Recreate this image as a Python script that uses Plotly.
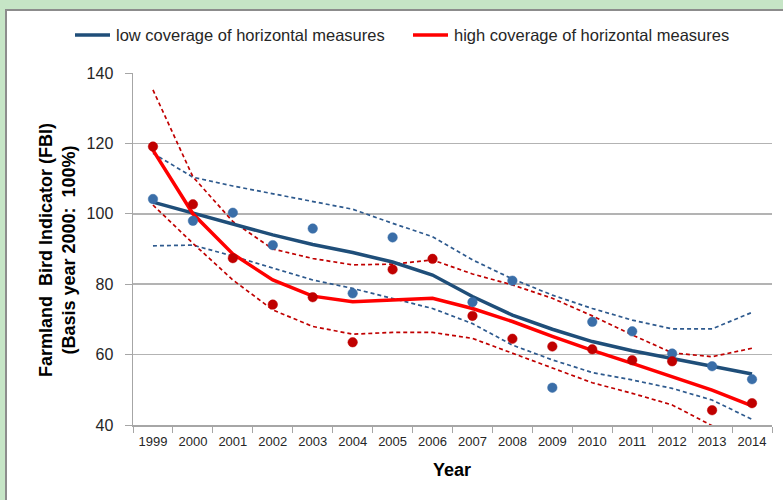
import plotly.graph_objects as go

years = [str(y) for y in range(1999, 2015)]

# observed index values (dots)
low_obs = [104.2, 98.0, 100.3, 91.1, 95.8, 77.4, 93.3, None, 74.9, 81.0, 50.6, 69.3, 66.6, 60.3, 56.7, 53.0]
high_obs = [119.1, 102.7, 87.4, 74.2, 76.3, 63.5, 84.2, 87.2, 71.0, 64.5, 62.3, 61.5, 58.4, 58.1, 44.2, 46.2]

# smoothed trends
low_trend = [103.3, 100.2, 97.0, 94.0, 91.3, 89.0, 86.3, 82.6, 76.5, 71.2, 67.2, 63.7, 61.1, 58.9, 56.8, 54.5]
high_trend = [118.1, 100.0, 88.6, 81.2, 76.6, 75.0, 75.5, 76.0, 73.1, 69.4, 65.2, 61.2, 57.5, 53.7, 49.9, 45.4]

# confidence bounds
low_upper = [117.2, 110.4, 107.9, 105.7, 103.6, 101.3, 97.3, 93.5, 86.9, 81.5, 76.9, 73.1, 69.8, 67.3, 67.3, 72.0]
low_lower = [90.9, 91.1, 88.0, 84.5, 81.2, 78.8, 76.0, 73.1, 68.8, 62.7, 58.5, 54.9, 52.8, 50.4, 47.1, 41.6]
high_upper = [135.2, 110.5, 97.8, 90.0, 87.3, 85.5, 85.7, 86.9, 82.9, 79.8, 76.0, 71.0, 65.6, 60.5, 59.4, 61.8]
high_lower = [102.5, 91.6, 81.2, 72.7, 68.0, 65.8, 66.3, 66.3, 64.6, 60.4, 56.1, 52.0, 49.0, 45.7, 39.8, 33.0]

y_ticks = [40, 60, 80, 100, 120, 140]
series_names = ["low coverage of horizontal measures", "high coverage of horizontal measures"]

BLUE_LINE = "#1F4E79"
BLUE_DOT = "#3A6EA8"
BLUE_DASH = "#2E5A8E"
RED_LINE = "#FF0000"
RED_DOT = "#C00000"
RED_DASH = "#C00000"
FONT = "Liberation Sans, Arial, sans-serif"

fig = go.Figure()

def dash(y, color):
    fig.add_trace(go.Scatter(x=years, y=y, mode="lines", showlegend=False, hoverinfo="skip",
                             line=dict(color=color, width=1.7, dash="4px,3px")))

dash(low_upper, BLUE_DASH)
dash(low_lower, BLUE_DASH)
dash(high_upper, RED_DASH)
dash(high_lower, RED_DASH)

fig.add_trace(go.Scatter(x=years, y=low_trend, mode="lines", name=series_names[0], showlegend=False,
                         line=dict(color=BLUE_LINE, width=3.5)))
fig.add_trace(go.Scatter(x=years, y=high_trend, mode="lines", name=series_names[1], showlegend=False,
                         line=dict(color=RED_LINE, width=3.5)))

fig.add_trace(go.Scatter(x=years, y=low_obs, mode="markers", showlegend=False,
                         marker=dict(color=BLUE_DOT, size=9.5, line=dict(width=1, color="rgba(58,110,168,0.5)"))))
fig.add_trace(go.Scatter(x=years, y=high_obs, mode="markers", showlegend=False,
                         marker=dict(color=RED_DOT, size=9.5, line=dict(width=1, color="rgba(192,0,0,0.5)"))))

L, R, T, B = 133, 11, 73, 75
W, H = 783, 500
pw, ph = W - L - R, H - T - B

def px2x(px):
    return (px - L) / pw

def py2y(py):
    return (H - B - py) / ph

# white chart panel on the green page
fig.add_shape(type="rect", xref="paper", yref="paper", layer="below",
              x0=px2x(6), x1=px2x(800), y0=py2y(520), y1=py2y(10),
              fillcolor="white", line=dict(color="#8C8C8C", width=2))

# legend (drawn manually to keep it on one row)
for (x0, x1, tx), col, name in zip([(75, 110, 114), (413, 448, 452)], [BLUE_LINE, RED_LINE], series_names):
    fig.add_shape(type="line", xref="paper", yref="paper", x0=px2x(x0), x1=px2x(x1),
                  y0=py2y(35), y1=py2y(35), line=dict(color=col, width=3.5))
    fig.add_annotation(xref="paper", yref="paper", x=px2x(tx), y=py2y(35), text=name,
                       showarrow=False, xanchor="left", yanchor="middle",
                       font=dict(family=FONT, size=16.5, color="#262626"))

fig.add_annotation(xref="paper", yref="paper", x=px2x(57), y=py2y(250), textangle=-90,
                   text="<b>Farmland  Bird Indicator (FBI)</b><br><b>(Basis year 2000:  100%)</b>",
                   showarrow=False, font=dict(family=FONT, size=18, color="black"),
                   xanchor="center", yanchor="middle")
fig.add_annotation(xref="paper", yref="paper", x=px2x(452), y=py2y(470),
                   text="<b>Year</b>", showarrow=False,
                   font=dict(family=FONT, size=18, color="black"),
                   xanchor="center", yanchor="middle")

fig.update_layout(
    width=W, height=H,
    margin=dict(l=L, r=R, t=T, b=B, autoexpand=False),
    paper_bgcolor="#C6E5C6",
    plot_bgcolor="white",
    showlegend=False,
    hovermode=False,
    xaxis=dict(type="category", categoryorder="array", categoryarray=years,
               showgrid=False, showline=True, linecolor="#A6A6A6", linewidth=1.5,
               ticks="outside", tickson="boundaries", ticklen=6, tickcolor="#A6A6A6",
               tickfont=dict(family=FONT, size=13, color="#262626"), ticklabelstandoff=4,
               range=[-0.5, 15.5], fixedrange=True),
    yaxis=dict(range=[40, 140], tickvals=y_ticks, showgrid=True, gridcolor="#B3B3B3", gridwidth=1.5,
               showline=True, linecolor="#A6A6A6", linewidth=1.5, zeroline=False,
               ticks="outside", ticklen=7, tickcolor="#A6A6A6",
               tickfont=dict(family=FONT, size=16, color="#262626"), ticklabelstandoff=8,
               fixedrange=True),
)

fig.write_html("out.html", config={"displayModeBar": False, "staticPlot": True},
               post_script="document.body.style.margin='0';document.body.style.overflow='hidden';")
